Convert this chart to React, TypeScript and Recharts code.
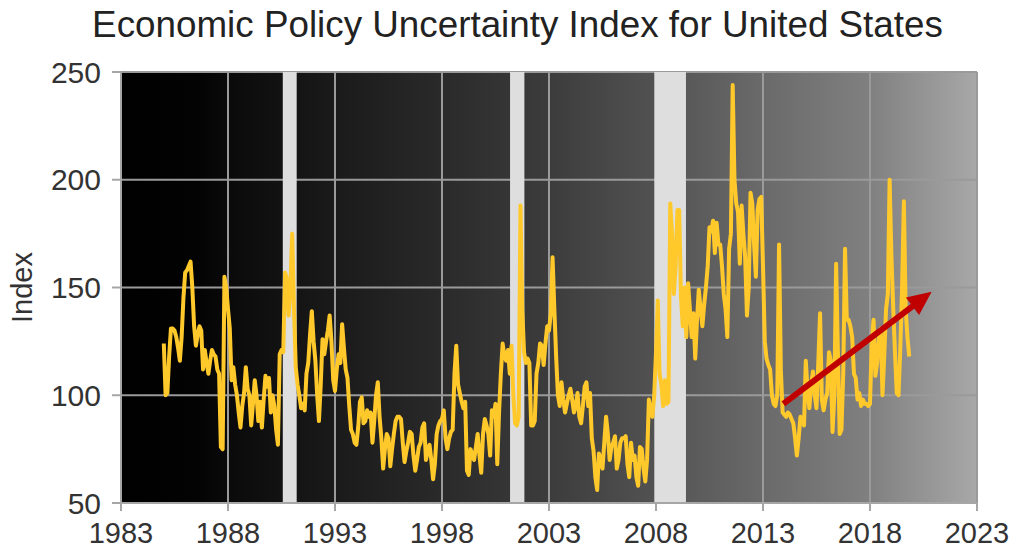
import React from "react";
import {
  LineChart,
  Line,
  XAxis,
  YAxis,
  CartesianGrid,
  ReferenceArea,
  ReferenceLine,
  Label,
} from "recharts";

// monthly index values, starting Jan 1985
const firstYear = 1985;

const epu1980s = [
  124, 100, 101, 118, 131, 131, 130, 127, 122, 116, 127, 145,
  157, 158, 160, 162, 150, 132, 123, 128, 132, 130, 112, 121,
  115, 110, 116, 121, 119, 118, 112, 110, 76, 75, 155, 150,
  140, 131, 107, 113, 105, 100, 92, 85, 95, 101, 113, 103,
  100, 86, 96, 107, 100, 88, 97, 85, 98, 109, 104, 108,
];

const epu1990s = [
  92, 100, 95, 84, 77, 119, 121, 120, 157, 154, 137, 150,
  175, 140, 113, 105, 100, 94, 96, 93, 110, 115, 128, 139,
  125, 116, 100, 88, 105, 126, 119, 125, 130, 137, 125, 107,
  102, 112, 119, 115, 133, 122, 112, 108, 95, 84, 82, 78,
  77, 85, 97, 99, 87, 88, 93, 90, 92, 78, 88, 100,
  106, 90, 80, 66, 75, 82, 80, 67, 75, 82, 88, 90,
  90, 89, 78, 69, 74, 78, 83, 82, 72, 65, 70, 76,
  78, 85, 87, 70, 74, 77, 70, 61, 68, 82, 86, 88,
  89, 93, 80, 75, 80, 83, 84, 110, 123, 105, 101, 97,
  94, 97, 65, 63, 75, 72, 70, 76, 82, 72, 64, 82,
];

const epu2000s = [
  89, 86, 82, 72, 93, 90, 96, 68, 92, 110, 124, 118,
  116, 121, 110, 123, 100, 87, 86, 90, 188, 140, 120, 115,
  117, 115, 86, 86, 88, 110, 115, 124, 123, 114, 124, 132,
  130, 138, 164, 140, 118, 100, 95, 106, 98, 92, 96, 100,
  103, 98, 92, 95, 101, 90, 87, 95, 104, 106, 95, 101,
  80, 74, 62, 56, 73, 70, 66, 78, 90, 82, 70, 76,
  78, 81, 66, 70, 78, 80, 80, 81, 68, 62, 78, 70,
  72, 62, 58, 76, 75, 66, 60, 70, 98, 93, 90, 100,
  120, 144, 110, 105, 95, 107, 96, 97, 189, 175, 147, 160,
  186, 186, 146, 132, 150, 127, 152, 140, 127, 138, 117, 135,
];

const epu2010s = [
  149, 140, 132, 142, 150, 160, 178, 176, 181, 166, 180, 170,
  170, 160, 147, 140, 127, 168, 175, 244, 200, 189, 185, 161,
  188, 175, 164, 137, 150, 194, 189, 170, 155, 186, 191, 192,
  160, 125, 117, 114, 112, 100, 96, 95, 100, 170, 112, 92,
  91, 90, 92, 91, 89, 87, 80, 72, 80, 90, 88, 86,
  116, 102, 94, 105, 111, 100, 94, 115, 138, 98, 93, 98,
  101, 120, 116, 83, 100, 161, 120, 82, 84, 110, 168, 135,
  135, 132, 127, 110, 108, 98, 101, 95, 98, 96, 96, 95,
  96, 125, 135, 109, 115, 127, 131, 100, 118, 140, 147, 200,
  165, 141, 120, 101, 100, 122, 150, 190, 140, 127, 118,
];

const xTicks = [1983, 1988, 1993, 1998, 2003, 2008, 2013, 2018, 2023];
const yTicks = [50, 100, 150, 200, 250];

// shaded recessions, in fractional years
const recessionStarts = [1990.56, 2001.18, 2007.92];
const recessionEnds = [1991.21, 2001.85, 2009.4];

// hand-drawn trend arrow
const arrowFrom = { x: 2013.95, y: 96 };
const arrowTo = { x: 2020.88, y: 148 };

const data = [...epu1980s, ...epu1990s, ...epu2000s, ...epu2010s].map((v, i) => ({
  t: firstYear + i / 12,
  v,
}));

const font = "'Liberation Sans', Arial, sans-serif";

function TrendArrow(props: any) {
  const { x1, y1, x2, y2 } = props;
  if ([x1, y1, x2, y2].some((n) => typeof n !== "number")) return null;
  const len = Math.hypot(x2 - x1, y2 - y1);
  const ux = (x2 - x1) / len;
  const uy = (y2 - y1) / len;
  const head = 24;
  const half = 11;
  const bx = x2 - ux * head;
  const by = y2 - uy * head;
  const pts = `${x2},${y2} ${bx - uy * half},${by + ux * half} ${bx + uy * half},${by - ux * half}`;
  return (
    <g>
      <line x1={x1} y1={y1} x2={bx + ux * 2} y2={by + uy * 2} stroke="#c00000" strokeWidth={6} />
      <polygon points={pts} fill="#c00000" />
    </g>
  );
}

export default function App() {
  return (
    <div style={{ position: "absolute", left: 0, top: 0, width: 1026, height: 557, background: "#fff" }}>
      <div
        style={{
          position: "absolute",
          left: 0,
          top: 7,
          width: 1035,
          textAlign: "center",
          fontFamily: font,
          fontSize: 36.8,
          lineHeight: "36px",
          color: "#222",
        }}
      >
        Economic Policy Uncertainty Index for United States
      </div>
      <LineChart
        width={1026}
        height={557}
        data={data}
        margin={{ top: 72, right: 49, bottom: 0, left: 0 }}
      >
        <defs>
          <linearGradient id="plotBg" x1="0" y1="0" x2="1" y2="0">
            <stop offset="0" stopColor="#000000" />
            <stop offset="0.09" stopColor="#030303" />
            <stop offset="0.125" stopColor="#0a0a0a" />
            <stop offset="0.25" stopColor="#1a1a1a" />
            <stop offset="0.375" stopColor="#2a2a2a" />
            <stop offset="0.5" stopColor="#3c3c3c" />
            <stop offset="0.625" stopColor="#525252" />
            <stop offset="0.75" stopColor="#6a6a6a" />
            <stop offset="0.875" stopColor="#808080" />
            <stop offset="1" stopColor="#a8a8a8" />
          </linearGradient>
        </defs>
        <CartesianGrid fill="url(#plotBg)" fillOpacity={1} stroke="#9a9a9a" strokeWidth={2} />
        {recessionStarts.map((s, i) => (
          <ReferenceArea
            key={s}
            x1={s}
            x2={recessionEnds[i]}
            y1={50}
            y2={250}
            fill="#dedede"
            fillOpacity={1}
            stroke="none"
          />
        ))}
        <XAxis
          type="number"
          dataKey="t"
          domain={[1983, 2023]}
          ticks={xTicks}
          interval={0}
          height={54}
          tickSize={8}
          tickMargin={11}
          stroke="#a6a6a6"
          strokeWidth={2}
          tick={{ fill: "#333", fontSize: 29, fontFamily: font }}
        />
        <YAxis
          type="number"
          domain={[50, 250]}
          ticks={yTicks}
          interval={0}
          width={121}
          tickSize={9}
          tickMargin={11}
          stroke="#a6a6a6"
          strokeWidth={2}
          tick={{ fill: "#333", fontSize: 30, fontFamily: font }}
        >
          <Label
            value="Index"
            angle={-90}
            position="insideLeft"
            offset={22}
            style={{ textAnchor: "middle", fill: "#333", fontSize: 29, fontFamily: font }}
          />
        </YAxis>
        <Line
          type="linear"
          dataKey="v"
          stroke="#ffc92b"
          strokeWidth={4}
          strokeLinejoin="round"
          dot={false}
          activeDot={false}
          isAnimationActive={false}
        />
        <ReferenceLine
          segment={[arrowFrom, arrowTo]}
          stroke="#c00000"
          shape={TrendArrow}
        />
      </LineChart>
    </div>
  );
}
